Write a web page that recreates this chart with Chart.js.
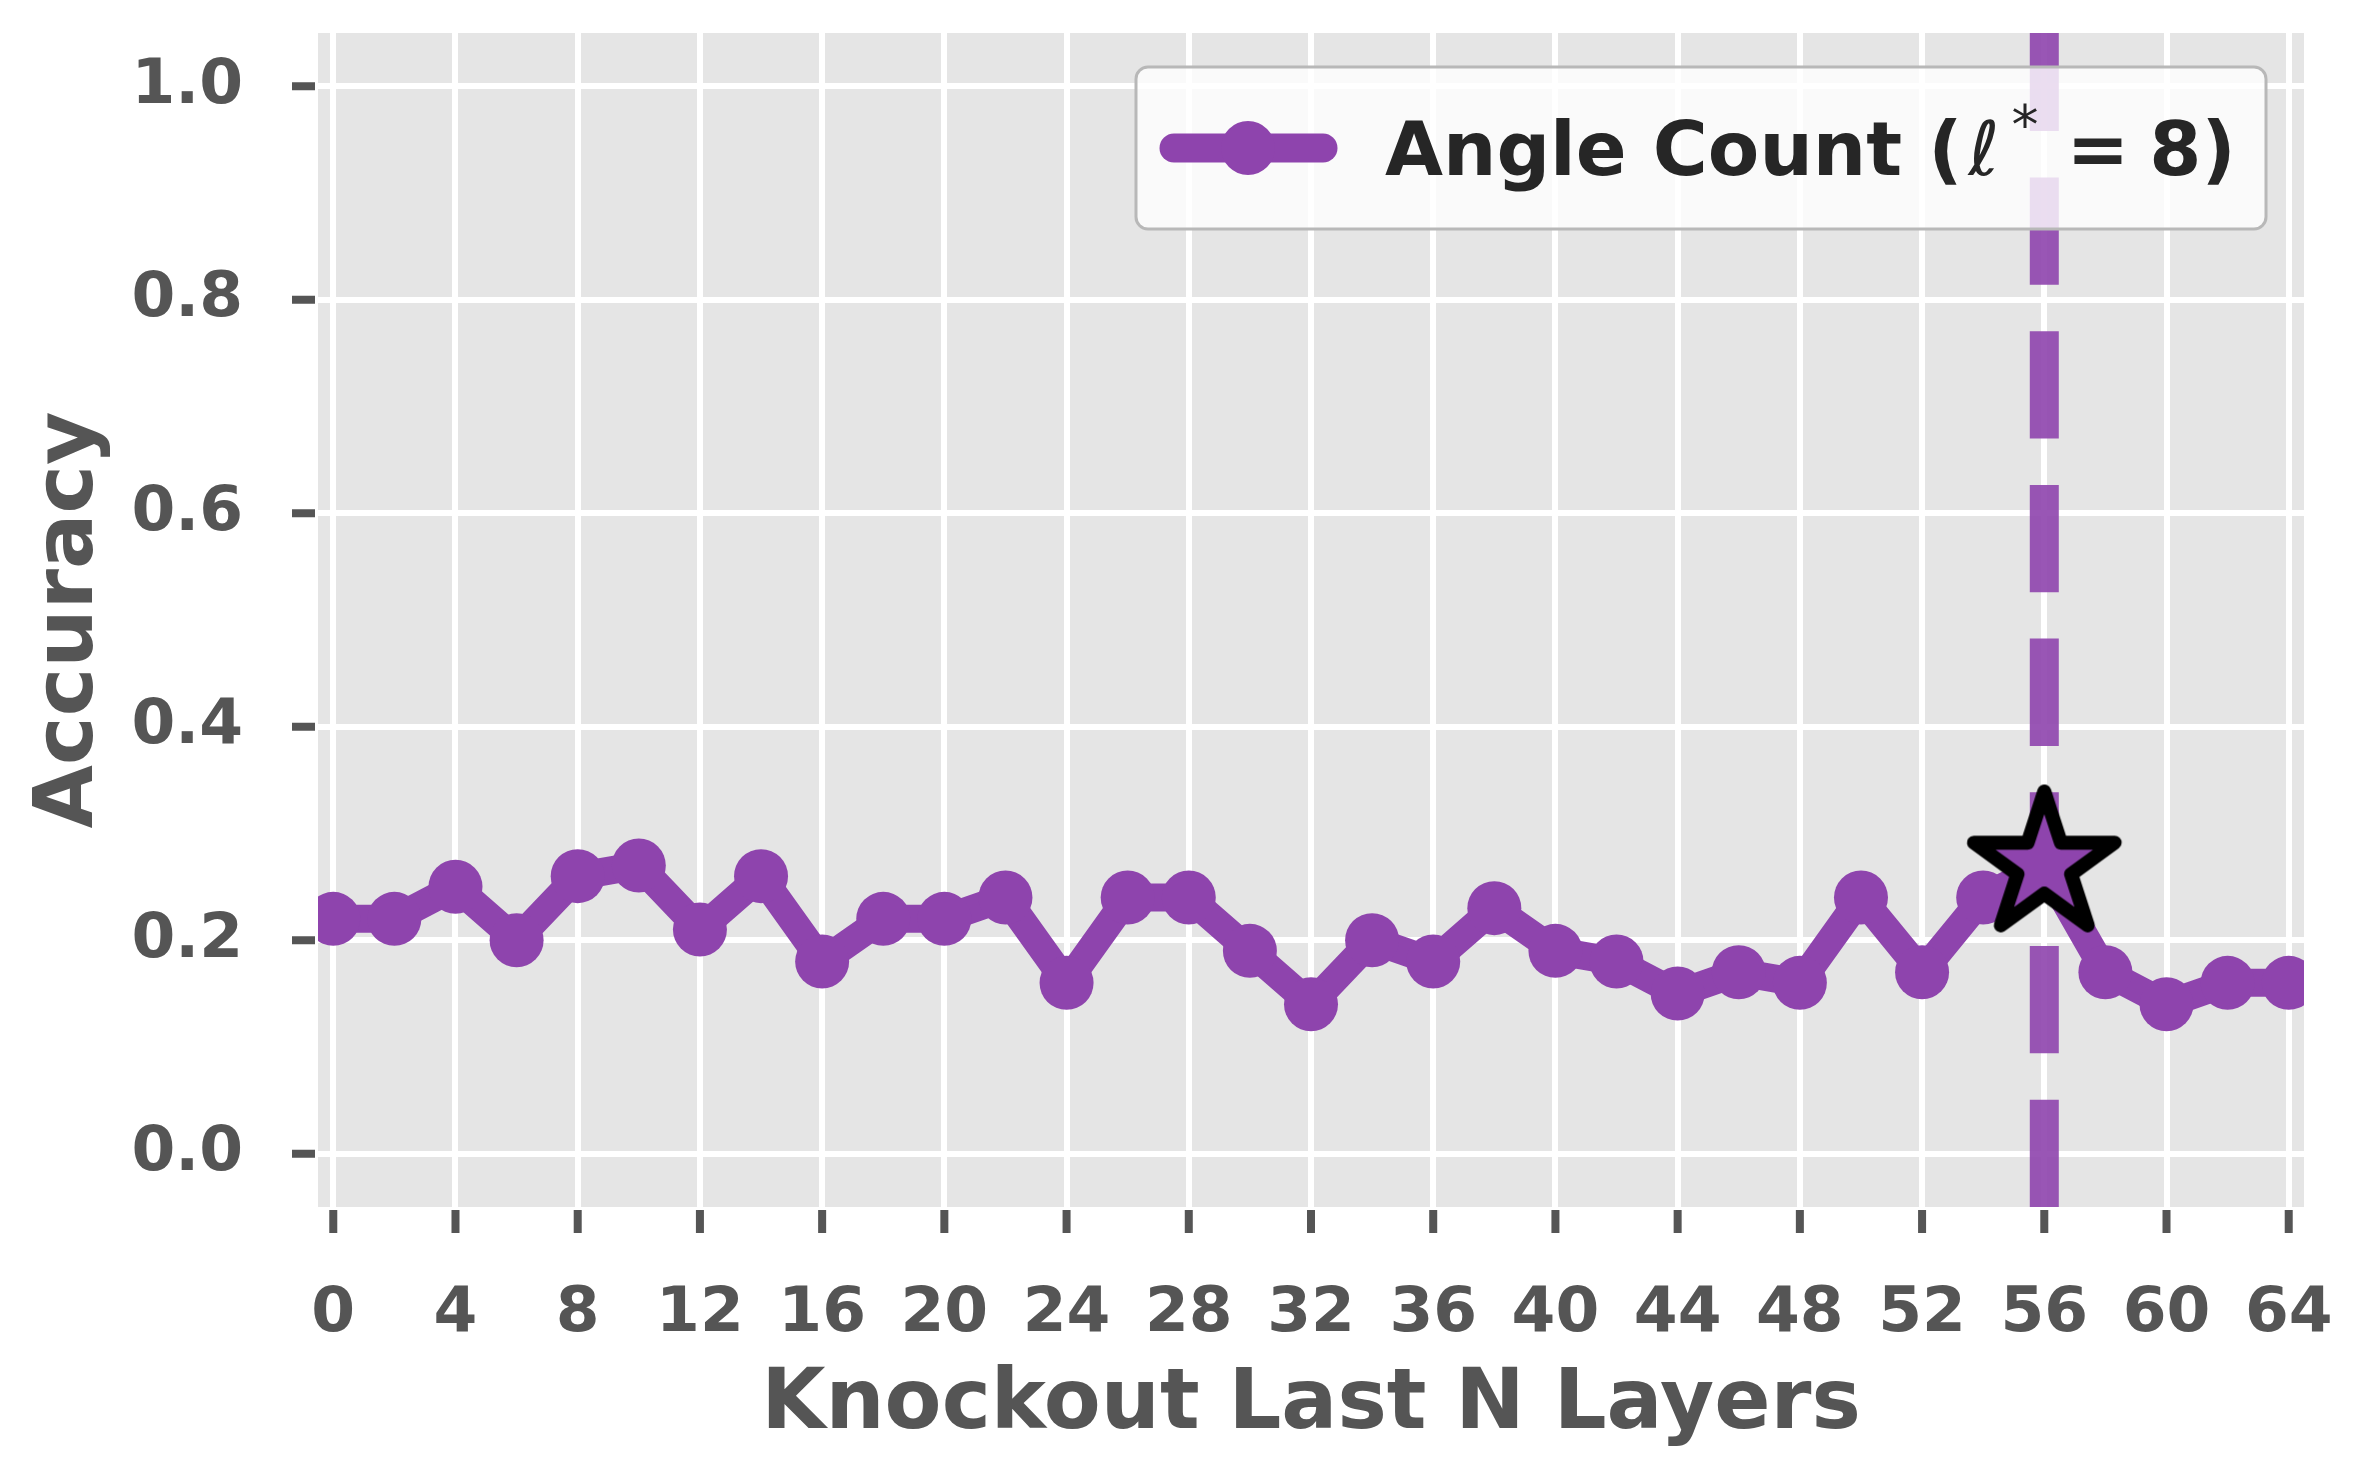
<!DOCTYPE html>
<html>
<head>
<meta charset="utf-8">
<title>Knockout Last N Layers</title>
<script src="https://cdn.jsdelivr.net/npm/chart.js@4"></script>
<style>
  html, body { margin: 0; padding: 0; background: #fff; }
  #chart { display: block; }
</style>
</head>
<body>
<canvas id="chart" width="2365" height="1474"></canvas>
<script>
// data
const layers = [0, 2, 4, 6, 8, 10, 12, 14, 16, 18, 20, 22, 24, 26, 28, 30, 32,
                34, 36, 38, 40, 42, 44, 46, 48, 50, 52, 54, 56, 58, 60, 62, 64];
const accuracy = [0.22, 0.22, 0.25, 0.20, 0.26, 0.27, 0.21, 0.26, 0.18, 0.22, 0.22,
                  0.24, 0.16, 0.24, 0.24, 0.19, 0.14, 0.20, 0.18, 0.23, 0.19, 0.18,
                  0.15, 0.17, 0.16, 0.24, 0.17, 0.24, 0.27, 0.17, 0.14, 0.16, 0.16];
const bestLayer = [56];
const bestAcc = [0.27];
const xTicks = [0, 4, 8, 12, 16, 20, 24, 28, 32, 36, 40, 44, 48, 52, 56, 60, 64];
const yTicks = [0.0, 0.2, 0.4, 0.6, 0.8, 1.0];
const seriesName = 'Angle Count (';
const seriesMath = 'ℓ';
const seriesEq = '=';
const seriesTail = '8)';

const PURPLE = '#8E44AD';
const FONT = '"DejaVu Sans", Verdana, sans-serif';
const AXIS_GREY = '#555555';

// star marker for the chosen layer (matplotlib-like '*' with black edge)
function makeStar() {
  const c = document.createElement('canvas');
  c.width = 190; c.height = 190;
  const g = c.getContext('2d');
  const R = 74, r = R * 0.381966, cx = 95, cy = 95;
  g.beginPath();
  for (let i = 0; i < 10; i++) {
    const rad = i % 2 === 0 ? R : r;
    const a = -Math.PI / 2 + i * Math.PI / 5;
    const px = cx + rad * Math.cos(a), py = cy + rad * Math.sin(a);
    if (i === 0) g.moveTo(px, py); else g.lineTo(px, py);
  }
  g.closePath();
  g.fillStyle = PURPLE;
  g.fill();
  g.lineWidth = 14;
  g.lineJoin = 'round';
  g.strokeStyle = '#000';
  g.stroke();
  return c;
}

// keep the plot box where the original has it: no extra padding from tick labels
const noScalePadding = {
  id: 'noScalePadding',
  beforeLayout(chart) {
    Object.values(chart.scales).forEach(s => {
      s.getPadding = () => ({ left: 0, top: 0, right: 0, bottom: 0 });
    });
  }
};

const bgPlugin = {
  id: 'bg',
  beforeDraw(chart) {
    const { ctx, chartArea: a } = chart;
    ctx.save();
    ctx.fillStyle = '#fff';
    ctx.fillRect(0, 0, chart.width, chart.height);
    ctx.fillStyle = '#E5E5E5';
    ctx.fillRect(a.left, a.top, a.right - a.left, a.bottom - a.top);
    ctx.restore();
  }
};

// dashed marker line at the best layer
const vlinePlugin = {
  id: 'vline',
  beforeDatasetsDraw(chart) {
    const { ctx, chartArea: a, scales } = chart;
    const x = scales.x.getPixelForValue(bestLayer[0]);
    ctx.save();
    ctx.beginPath();
    ctx.rect(a.left, a.top, a.right - a.left, a.bottom - a.top);
    ctx.clip();
    ctx.strokeStyle = 'rgba(142,68,173,0.9)';
    ctx.lineWidth = 29;
    ctx.lineCap = 'butt';
    ctx.setLineDash([107.3, 46.4]);
    ctx.beginPath();
    ctx.moveTo(x, a.bottom);
    ctx.lineTo(x, a.top);
    ctx.stroke();
    ctx.restore();
  }
};

// outward tick marks with a small gap, like the original
const tickPlugin = {
  id: 'tickmarks',
  afterDraw(chart) {
    const { ctx, chartArea: a, scales } = chart;
    ctx.save();
    ctx.strokeStyle = AXIS_GREY;
    ctx.lineWidth = 8;
    ctx.lineCap = 'butt';
    ctx.beginPath();
    yTicks.forEach(v => {
      const y = scales.y.getPixelForValue(v);
      ctx.moveTo(a.left - 3, y);
      ctx.lineTo(a.left - 26, y);
    });
    xTicks.forEach(v => {
      const x = scales.x.getPixelForValue(v);
      ctx.moveTo(x, a.bottom + 3);
      ctx.lineTo(x, a.bottom + 26);
    });
    ctx.stroke();
    ctx.restore();
  }
};

function roundRect(ctx, x, y, w, h, r) {
  ctx.beginPath();
  ctx.moveTo(x + r, y);
  ctx.lineTo(x + w - r, y);
  ctx.arcTo(x + w, y, x + w, y + r, r);
  ctx.lineTo(x + w, y + h - r);
  ctx.arcTo(x + w, y + h, x + w - r, y + h, r);
  ctx.lineTo(x + r, y + h);
  ctx.arcTo(x, y + h, x, y + h - r, r);
  ctx.lineTo(x, y + r);
  ctx.arcTo(x, y, x + r, y, r);
  ctx.closePath();
}

const legendPlugin = {
  id: 'customLegend',
  afterDraw(chart) {
    const { ctx, chartArea: a } = chart;
    const boxR = a.right - 38, boxT = a.top + 34;
    const boxL = boxR - 1130, boxH = 162;
    ctx.save();
    roundRect(ctx, boxL, boxT, boxR - boxL, boxH, 12);
    ctx.fillStyle = 'rgba(255,255,255,0.8)';
    ctx.fill();
    ctx.lineWidth = 3;
    ctx.strokeStyle = '#B8B8B8';
    ctx.stroke();

    const cy = boxT + 81;
    ctx.strokeStyle = PURPLE;
    ctx.lineWidth = 29;
    ctx.lineCap = 'round';
    ctx.beginPath();
    ctx.moveTo(boxL + 38, cy);
    ctx.lineTo(boxL + 187, cy);
    ctx.stroke();
    ctx.fillStyle = PURPLE;
    ctx.beginPath();
    ctx.arc(boxL + 112, cy, 27, 0, Math.PI * 2);
    ctx.fill();

    // label text: bold words, italic ell with superscript star
    let x = boxL + 249;
    const base = cy + 27;
    ctx.fillStyle = '#262626';
    ctx.textBaseline = 'alphabetic';
    ctx.textAlign = 'left';
    ctx.font = 'bold 75px ' + FONT;
    ctx.fillText(seriesName, x, base);
    x += ctx.measureText(seriesName).width + 6;
    ctx.font = 'italic 75px ' + FONT;
    ctx.fillText(seriesMath, x, base);
    x += ctx.measureText(seriesMath).width + 12;
    ctx.font = '54px ' + FONT;
    ctx.fillText('*', x, base - 32);
    x += ctx.measureText('*').width + 28;
    ctx.font = 'bold 75px ' + FONT;
    ctx.fillText(seriesEq, x, base);
    x += ctx.measureText(seriesEq).width + 20;
    ctx.fillText(seriesTail, x, base);
    ctx.restore();
  }
};

const tickFont = { family: FONT, size: 63, weight: 'bold' };
const titleFont = { family: FONT, size: 83, weight: 'bold' };

new Chart(document.getElementById('chart'), {
  type: 'line',
  data: {
    datasets: [
      {
        label: 'best layer',
        data: bestLayer.map((x, i) => ({ x: x, y: bestAcc[i] })),
        showLine: false,
        pointStyle: makeStar(),
        pointRadius: 80,
        order: 0,
        clip: 0
      },
      {
        label: 'Angle Count',
        data: layers.map((x, i) => ({ x: x, y: accuracy[i] })),
        borderColor: PURPLE,
        backgroundColor: PURPLE,
        borderWidth: 28,
        borderCapStyle: 'round',
        borderJoinStyle: 'round',
        pointRadius: 27,
        pointBorderWidth: 0,
        pointBackgroundColor: PURPLE,
        tension: 0,
        order: 1,
        clip: 0
      }
    ]
  },
  options: {
    responsive: false,
    animation: false,
    events: [],
    layout: { autoPadding: false, padding: { left: 0, top: 33, right: 61, bottom: 0 } },
    plugins: { legend: { display: false }, tooltip: { enabled: false } },
    scales: {
      x: {
        type: 'linear',
        min: -0.5,
        max: 64.5,
        afterBuildTicks: s => { s.ticks = xTicks.map(v => ({ value: v })); },
        afterFit: s => { s.height = 267; },
        ticks: {
          font: tickFont, color: AXIS_GREY, padding: 70,
          autoSkip: false, maxRotation: 0, minRotation: 0,
          callback: v => String(v)
        },
        grid: { color: '#FFFFFF', lineWidth: 6, drawTicks: false },
        border: { display: false },
        title: {
          display: true, text: 'Knockout Last N Layers',
          font: titleFont, color: AXIS_GREY, padding: { top: 0, bottom: 18 }
        }
      },
      y: {
        type: 'linear',
        min: -0.05,
        max: 1.05,
        afterBuildTicks: s => { s.ticks = yTicks.map(v => ({ value: v })); },
        afterFit: s => { s.width = 318; },
        ticks: {
          font: tickFont, color: AXIS_GREY, padding: 75,
          callback: v => v.toFixed(1)
        },
        grid: { color: '#FFFFFF', lineWidth: 6, drawTicks: false },
        border: { display: false },
        title: {
          display: true, text: 'Accuracy',
          font: { family: FONT, size: 82, weight: 'bold' }, color: AXIS_GREY,
          padding: { top: 22, bottom: 0 }
        }
      }
    }
  },
  plugins: [noScalePadding, bgPlugin, vlinePlugin, tickPlugin, legendPlugin]
});
</script>
</body>
</html>
